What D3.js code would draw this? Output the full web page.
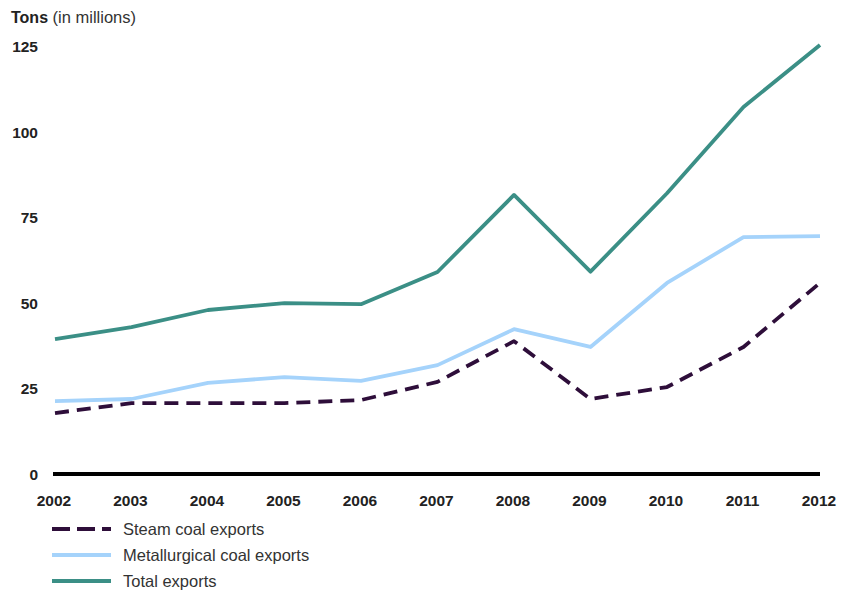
<!DOCTYPE html>
<html><head><meta charset="utf-8">
<script src="https://cdn.jsdelivr.net/npm/d3@7"></script>
<style>
body{margin:0;background:#fff;}
text{font-family:"Liberation Sans",Arial,Helvetica,sans-serif;}
</style></head>
<body><svg id="c" width="842" height="591"></svg>
<script>
const years = [2002,2003,2004,2005,2006,2007,2008,2009,2010,2011,2012];
const steam = [17.8,20.7,20.7,20.7,21.6,26.9,38.8,21.9,25.4,37.1,55.8];
const metallurgical = [21.3,21.9,26.6,28.3,27.2,31.8,42.3,37.1,55.8,69.2,69.5];
const total = [39.4,42.9,47.9,49.9,49.6,59.0,81.5,59.1,82.0,107.2,125.3];
const yTicks = [0,25,50,75,100,125];
const seriesNames = ["Steam coal exports","Metallurgical coal exports","Total exports"];

const svg = d3.select("#c");
const x = d3.scaleLinear().domain([2002,2012]).range([55,820]);
const y = d3.scaleLinear().domain([0,125]).range([474,46]);

// title
const t = svg.append("text").attr("x",11).attr("y",23).attr("fill","#222");
t.append("tspan").attr("font-weight","bold").attr("font-size",16).text("Tons");
t.append("tspan").attr("font-size",16.5).attr("fill","#333").text(" (in millions)");

// y tick labels
svg.append("g").selectAll("text").data(yTicks).join("text")
  .attr("x",38).attr("y",d=>y(d)+6).attr("text-anchor","end")
  .attr("font-size",15.5).attr("font-weight","bold").attr("fill","#222").text(d=>d);

// x tick labels
svg.append("g").selectAll("text").data(years).join("text")
  .attr("x",d=>x(d)-1).attr("y",506).attr("text-anchor","middle")
  .attr("font-size",15.5).attr("font-weight","bold").attr("fill","#222").text(d=>d);

// baseline
svg.append("line").attr("x1",x(2002)-2).attr("x2",x(2012)).attr("y1",y(0)).attr("y2",y(0))
  .attr("stroke","#000").attr("stroke-width",4);

const styles = [
  {data:steam, color:"#2e0e3a", dash:"14,8"},
  {data:metallurgical, color:"#a5d3fb", dash:null},
  {data:total, color:"#3b8f86", dash:null}
];
const line = d3.line().x((d,i)=>x(years[i])).y(d=>y(d));
[2,1,0].forEach(k=>{
  const s = styles[k];
  svg.append("path").attr("d",line(s.data)).attr("fill","none")
    .attr("stroke",s.color).attr("stroke-width",3.8)
    .attr("stroke-linejoin","round")
    .attr("stroke-dasharray",s.dash);
});

// legend
const lg = svg.append("g");
seriesNames.forEach((n,i)=>{
  const yy = 529 + i*26;
  lg.append("line").attr("x1",52).attr("x2",111).attr("y1",yy).attr("y2",yy)
    .attr("stroke",styles[i].color).attr("stroke-width",4)
    .attr("stroke-dasharray", i===0 ? "18,7" : null);
  lg.append("text").attr("x",123).attr("y",yy+5.5).attr("font-size",16.5).attr("fill","#333").text(n);
});
</script></body></html>
